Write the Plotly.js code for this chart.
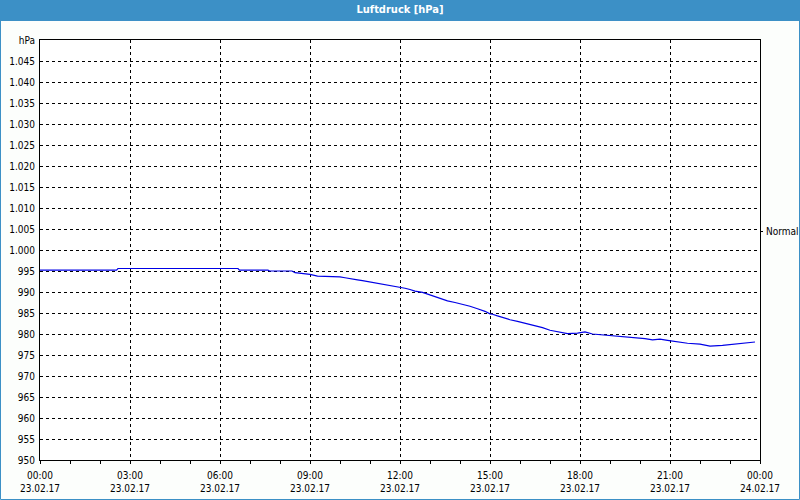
<!DOCTYPE html>
<html>
<head>
<meta charset="utf-8">
<script src="https://cdn.plot.ly/plotly-3.0.1.min.js"></script>
<style>
html,body{margin:0;padding:0;background:#fcfefc;}
#chart{width:800px;height:500px;}
</style>
</head>
<body>
<div id="chart"></div>
<script>
// ---- data ----
var chartTitle = 'Luftdruck [hPa]';
var day = '2017-02-23';
var times = ['00:00','02:33','02:36','06:36','06:39','07:36','07:39','08:24','08:30','09:00','09:15','09:40','10:00','10:10','10:25','10:35','10:45','10:55','11:10','11:25','11:40','11:55','12:10','12:20','12:30','12:45','12:55','13:05','13:15','13:25','13:35','13:50','14:05','14:20','14:35','14:50','15:00','15:05','15:15','15:25','15:40','15:55','16:10','16:25','16:45','17:00','17:15','17:35','17:55','18:10','18:25','18:45','19:15','19:50','20:10','20:25','20:40','20:55','21:15','21:35','22:00','22:20','22:45','23:10','23:30','23:50'];
var pressure = [995.2,995.2,995.6,995.6,995.2,995.2,995.0,995.0,994.6,994.2,993.8,993.7,993.6,993.4,993.2,992.9,992.7,992.5,992.1,991.8,991.5,991.2,990.9,990.6,990.2,989.9,989.5,989.0,988.6,988.2,987.9,987.5,987.1,986.6,986.0,985.4,984.8,984.7,984.3,983.9,983.4,983.0,982.6,982.1,981.5,980.9,980.5,980.1,980.2,980.5,980.0,979.8,979.5,979.2,978.9,978.6,978.8,978.5,978.1,977.8,977.6,977.1,977.3,977.6,977.8,978.1];
var xRange = ['2017-02-23 00:00:00','2017-02-24 00:00:00'];
var yTickVals = [950,955,960,965,970,975,980,985,990,995,1000,1005,1010,1015,1020,1025,1030,1035,1040,1045,1050];
var yTickText = ['950','955','960','965','970','975','980','985','990','995','1.000','1.005','1.010','1.015','1.020','1.025','1.030','1.035','1.040','1.045','hPa'];
var normalValue = 1004.4;
var normalLabel = 'Normal';

// ---- build ----
var x = times.map(function(t){ return day + ' ' + t + ':00'; });
var FONT = 'DejaVu Sans Condensed, DejaVu Sans, sans-serif';
var BLUE = '#3c90c6';
var L = 40, R = 40, T = 40, B = 40, W = 800, H = 500;
var pw = W - L - R, ph = H - T - B;
function px(p){ return (p - L) / pw; }
function py(p){ return (H - B - p) / ph; }

var traces = [
  {x: x, y: pressure, type: 'scatter', mode: 'lines',
   line: {color: '#0000e6', width: 1.2}, hoverinfo: 'x+y', showlegend: false},
  {x: xRange, y: [null, null], xaxis: 'x2', type: 'scatter', mode: 'lines',
   showlegend: false, hoverinfo: 'skip'}
];

var layout = {
  width: W, height: H,
  margin: {l: L, r: R, t: T, b: B, pad: 0},
  paper_bgcolor: '#fcfefc',
  plot_bgcolor: '#ffffff',
  separators: ',.',
  font: {family: FONT, size: 10, color: '#000'},
  title: {text: chartTitle, x: 0.5, xref: 'container', y: 1 - 9/H, yref: 'container',
          yanchor: 'middle', xanchor: 'center',
          font: {family: FONT, size: 11, color: '#ffffff', weight: 'bold'}},
  showlegend: false,
  xaxis: {
    type: 'date', range: xRange, tick0: day, dtick: 10800000,
    tickformat: '%H:%M', ticks: 'outside', ticklen: 3, tickcolor: '#000',
    showline: true, linecolor: '#000', linewidth: 1, mirror: true,
    showgrid: true, gridcolor: '#000', griddash: '3px,3px', gridwidth: 1,
    zeroline: false, tickfont: {family: FONT, size: 10, color: '#000'},
    ticklabelstandoff: 3,
    minor: {dtick: 3600000, tick0: day, ticks: 'outside', ticklen: 3, tickcolor: '#000', showgrid: false}
  },
  xaxis2: {
    type: 'date', range: xRange, tick0: day, dtick: 10800000, overlaying: 'x', anchor: 'y', side: 'bottom',
    tickformat: '%d.%m.%y', ticks: '', showline: false, showgrid: false, zeroline: false,
    ticklabelstandoff: 21, tickfont: {family: FONT, size: 10, color: '#000'}
  },
  yaxis: {
    range: [950, 1050], tickmode: 'array', tickvals: yTickVals, ticktext: yTickText,
    ticks: '', showline: true, linecolor: '#000', linewidth: 1, mirror: true,
    showgrid: true, gridcolor: '#000', griddash: '3px,3px', gridwidth: 1,
    zeroline: false, tickfont: {family: FONT, size: 10, color: '#000'}, ticklabelstandoff: 2
  },
  shapes: [
    {type: 'rect', xref: 'paper', yref: 'paper', x0: px(0), x1: px(W), y0: py(21), y1: py(0),
     fillcolor: BLUE, line: {width: 0}, layer: 'below'},
    {type: 'rect', xref: 'paper', yref: 'paper', x0: px(0.5), x1: px(W - 0.5), y0: py(H - 0.5), y1: py(0.5),
     line: {color: BLUE, width: 1}, fillcolor: 'rgba(0,0,0,0)', layer: 'above'},
    {type: 'line', xref: 'paper', yref: 'y', x0: 1, x1: 1 + 3/pw, y0: normalValue, y1: normalValue,
     line: {color: '#000', width: 1}}
  ],
  annotations: [
    {xref: 'paper', yref: 'y', x: 1, y: normalValue, xanchor: 'left', yanchor: 'middle',
     xshift: 4, text: normalLabel, showarrow: false, font: {family: FONT, size: 10, color: '#000'}}
  ]
};

Plotly.newPlot('chart', traces, layout, {displayModeBar: false, staticPlot: true});
</script>
</body>
</html>
